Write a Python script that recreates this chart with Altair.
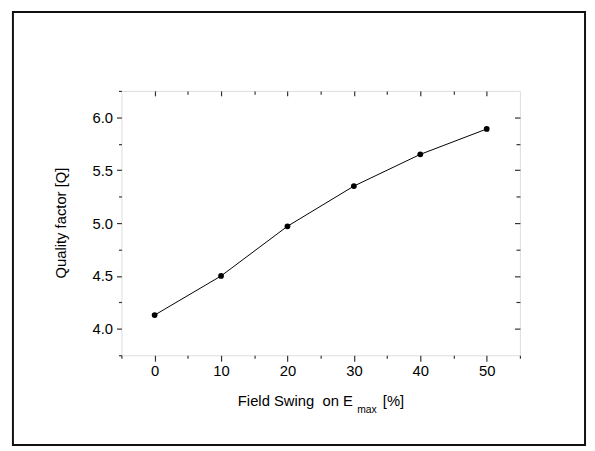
import altair as alt
import pandas as pd

# ---- data ----
swing = [0, 10, 20, 30, 40, 50]
quality = [4.13, 4.50, 4.97, 5.35, 5.65, 5.89]

x_major = [0, 10, 20, 30, 40, 50]
x_minor = [-5, 5, 15, 25, 35, 45, 55]
x_top_minor = [5, 15, 25, 35, 45]
y_major = [4.0, 4.5, 5.0, 5.5, 6.0]
y_minor = [3.75, 4.25, 4.75, 5.25, 5.75, 6.25]
y_right_minor = [4.25, 4.75, 5.25, 5.75]

x_title_main = "Field Swing\u00a0 on E"
x_title_sub = "max"
x_title_end = "[%]"
y_title = "Quality factor [Q]"

W, H = 404, 268
FONT = "Liberation Sans"
INK = "#333333"

df = pd.DataFrame({"swing": swing, "quality": quality})

xs = alt.Scale(domain=[-5, 55], nice=False, zero=False)
ys = alt.Scale(domain=[3.75, 6.25], nice=False, zero=False)

common = dict(domain=False, grid=False, title="", tickColor=INK, tickWidth=1.2)

ax_bottom = alt.Axis(orient="bottom", values=x_major, tickSize=6, labelFontSize=15,
                     labelFont=FONT, labelColor="black", labelPadding=3, **common)
ax_bottom_minor = alt.Axis(orient="bottom", values=x_minor, tickSize=3, labels=False, **common)
ax_top = alt.Axis(orient="bottom", offset=-H, values=x_major, tickSize=5, labels=False, **common)
ax_top_minor = alt.Axis(orient="bottom", offset=-H, values=x_top_minor, tickSize=3.5, labels=False, **common)

ax_left = alt.Axis(orient="left", values=y_major, tickSize=5, labelFontSize=15, format=".1f",
                   labelFont=FONT, labelColor="black", labelPadding=4, **common)
ax_left_minor = alt.Axis(orient="left", values=y_minor, tickSize=3, labels=False, **common)
ax_right = alt.Axis(orient="left", offset=-W, values=y_major, tickSize=5.5, labels=False, **common)
ax_right_minor = alt.Axis(orient="left", offset=-W, values=y_right_minor, tickSize=4, labels=False, **common)

base = alt.Chart(df)

line = base.mark_line(color="black", strokeWidth=1).encode(
    x=alt.X("swing:Q", scale=xs, axis=ax_bottom),
    y=alt.Y("quality:Q", scale=ys, axis=ax_left),
)
pts = base.mark_circle(color="black", opacity=1, size=34).encode(
    x=alt.X("swing:Q", scale=xs, axis=ax_bottom_minor),
    y=alt.Y("quality:Q", scale=ys, axis=ax_left_minor),
)
ghost1 = base.mark_point(opacity=0).encode(
    x=alt.X("swing:Q", scale=xs, axis=ax_top),
    y=alt.Y("quality:Q", scale=ys, axis=ax_right),
)
ghost2 = base.mark_point(opacity=0).encode(
    x=alt.X("swing:Q", scale=xs, axis=ax_top_minor),
    y=alt.Y("quality:Q", scale=ys, axis=ax_right_minor),
)

one = alt.Data(values=[{}])

border = alt.Chart(one).mark_rect(fillOpacity=0, stroke="#111111", strokeWidth=2).encode(
    x=alt.value(-110), x2=alt.value(470), y=alt.value(-80), y2=alt.value(359)
)

t_main = alt.Chart(one).mark_text(text=x_title_main, font=FONT, fontSize=15, color="black",
                                  align="left", baseline="alphabetic").encode(
    x=alt.value(118), y=alt.value(319))
t_sub = alt.Chart(one).mark_text(text=x_title_sub, font=FONT, fontSize=10.5, color="black",
                                 align="left", baseline="alphabetic").encode(
    x=alt.value(239), y=alt.value(327))
t_end = alt.Chart(one).mark_text(text=x_title_end, font=FONT, fontSize=15, color="black",
                                 align="left", baseline="alphabetic").encode(
    x=alt.value(265), y=alt.value(319))
t_y = alt.Chart(one).mark_text(text=y_title, font=FONT, fontSize=15, color="black",
                               align="center", baseline="middle", angle=270).encode(
    x=alt.value(-61), y=alt.value(H / 2))

chart = alt.layer(border, line, pts, ghost1, ghost2, t_main, t_sub, t_end, t_y).resolve_axis(
    x="independent", y="independent"
).properties(
    width=W, height=H,
    autosize=alt.AutoSizeParams(type="none"),
    padding={"left": 115, "top": 81, "right": 68, "bottom": 94},
).configure_view(
    stroke=INK, strokeWidth=1.5
).configure(background="white")

chart.save("out.html", embed_options={"renderer": "svg", "actions": False})
